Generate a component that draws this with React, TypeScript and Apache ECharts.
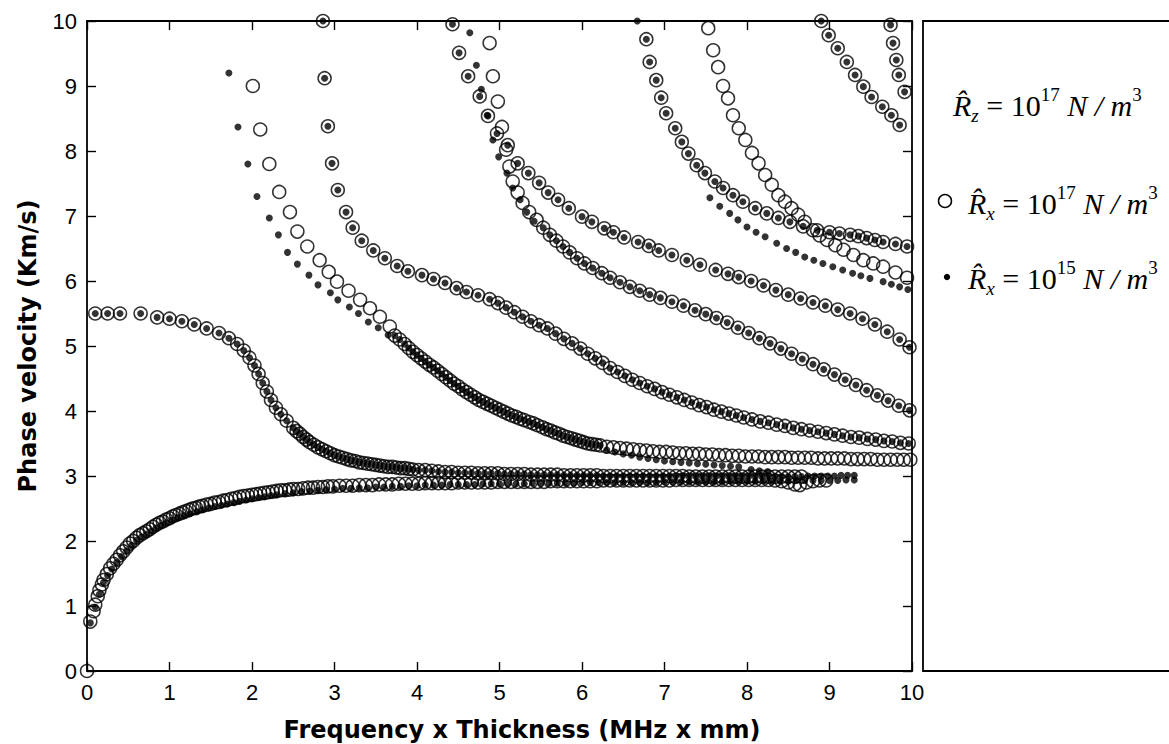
import React, { useEffect, useRef } from "react";
import * as echarts from "echarts";

type P = [number, number];

// Axis ticks
const xTickValues = [0, 1, 2, 3, 4, 5, 6, 7, 8, 9, 10];
const yTickValues = [0, 1, 2, 3, 4, 5, 6, 7, 8, 9, 10];

// ---- Mode A (fundamental low branch) ----
const A17: P[] = [
  [0, 0], [0.04, 0.76], [0.08, 0.92], [0.1, 1.02], [0.13, 1.15], [0.15, 1.24], [0.18, 1.33], [0.2, 1.4],
  [0.24, 1.49], [0.28, 1.58], [0.32, 1.65], [0.36, 1.71], [0.4, 1.78], [0.44, 1.84], [0.48, 1.9], [0.52, 1.96],
  [0.56, 2.0], [0.6, 2.05], [0.64, 2.09], [0.68, 2.12], [0.72, 2.15], [0.76, 2.18], [0.8, 2.22], [0.84, 2.25],
  [0.88, 2.28], [0.92, 2.3], [0.96, 2.33], [1.0, 2.35], [1.04, 2.38], [1.08, 2.4], [1.12, 2.42], [1.16, 2.44],
  [1.2, 2.46], [1.24, 2.48], [1.28, 2.5], [1.32, 2.51], [1.36, 2.53], [1.4, 2.54], [1.45, 2.56], [1.5, 2.57],
  [1.55, 2.59], [1.6, 2.6], [1.65, 2.62], [1.7, 2.63], [1.75, 2.65], [1.8, 2.66], [1.85, 2.68], [1.9, 2.69],
  [1.95, 2.7], [2.0, 2.71], [2.05, 2.72], [2.1, 2.73], [2.15, 2.74], [2.2, 2.75], [2.25, 2.76], [2.3, 2.77],
  [2.35, 2.78], [2.4, 2.78], [2.45, 2.79], [2.5, 2.8], [2.56, 2.8], [2.62, 2.81], [2.68, 2.82], [2.74, 2.82],
  [2.8, 2.83], [2.86, 2.83], [2.92, 2.84], [2.98, 2.84], [3.06, 2.85], [3.14, 2.85], [3.22, 2.85], [3.3, 2.86],
  [3.38, 2.86], [3.46, 2.86], [3.54, 2.87], [3.62, 2.87], [3.7, 2.87], [3.78, 2.88], [3.86, 2.88], [3.94, 2.88],
  [4.02, 2.88], [4.1, 2.89], [4.18, 2.89], [4.26, 2.89], [4.34, 2.89], [4.42, 2.89], [4.5, 2.9], [4.58, 2.9],
  [4.66, 2.9], [4.74, 2.9], [4.82, 2.9], [4.9, 2.9], [4.98, 2.91], [5.06, 2.91], [5.14, 2.91], [5.22, 2.91],
  [5.3, 2.91], [5.38, 2.91], [5.46, 2.91], [5.54, 2.91], [5.62, 2.92], [5.7, 2.92], [5.78, 2.92], [5.86, 2.92],
  [5.94, 2.92], [6.02, 2.92], [6.1, 2.92], [6.18, 2.92], [6.26, 2.93], [6.34, 2.93], [6.42, 2.93], [6.5, 2.93],
  [6.58, 2.93], [6.66, 2.93], [6.74, 2.93], [6.82, 2.93], [6.9, 2.93], [6.98, 2.93], [7.06, 2.93], [7.14, 2.94],
  [7.22, 2.94], [7.3, 2.94], [7.38, 2.94], [7.46, 2.94], [7.54, 2.94], [7.62, 2.94], [7.7, 2.94], [7.78, 2.94],
  [7.86, 2.94], [7.94, 2.94], [8.02, 2.94], [8.1, 2.94], [8.18, 2.94], [8.26, 2.94], [8.34, 2.93], [8.42, 2.92],
  [8.5, 2.9], [8.58, 2.87], [8.64, 2.86], [8.72, 2.9], [8.8, 2.92], [8.88, 2.93], [8.96, 2.93],
];
const A15: P[] = [
  [0.04, 0.74], [0.1, 0.98], [0.15, 1.18], [0.2, 1.36], [0.25, 1.47], [0.3, 1.57], [0.36, 1.67], [0.42, 1.76],
  [0.48, 1.85], [0.54, 1.93], [0.6, 2.01], [0.66, 2.06], [0.72, 2.1], [0.78, 2.15], [0.84, 2.2], [0.9, 2.24],
  [0.96, 2.28], [1.03, 2.32], [1.1, 2.36], [1.18, 2.39], [1.25, 2.42], [1.33, 2.45], [1.4, 2.48], [1.48, 2.51],
  [1.55, 2.53], [1.63, 2.55], [1.7, 2.57], [1.78, 2.59], [1.85, 2.61], [1.93, 2.63], [2.0, 2.65], [2.08, 2.67],
  [2.15, 2.68], [2.23, 2.7], [2.3, 2.71], [2.4, 2.73], [2.5, 2.74], [2.6, 2.76], [2.7, 2.77], [2.8, 2.78],
  [2.9, 2.79], [3.0, 2.8], [3.1, 2.81], [3.2, 2.81], [3.3, 2.82], [3.4, 2.82], [3.5, 2.83], [3.6, 2.83],
  [3.7, 2.84], [3.8, 2.84], [3.9, 2.85], [4.0, 2.85], [4.1, 2.86], [4.2, 2.86], [4.3, 2.86], [4.4, 2.87],
  [4.5, 2.87], [4.6, 2.87], [4.7, 2.87], [4.8, 2.88], [4.9, 2.88], [5.0, 2.88], [5.1, 2.88], [5.2, 2.88],
  [5.3, 2.88], [5.4, 2.89], [5.5, 2.89], [5.6, 2.89], [5.7, 2.89], [5.8, 2.89], [5.9, 2.89], [6.0, 2.9],
  [6.1, 2.9], [6.2, 2.9], [6.3, 2.9], [6.4, 2.9], [6.5, 2.9], [6.6, 2.9], [6.7, 2.9], [6.8, 2.9],
  [6.9, 2.9], [7.0, 2.91], [7.1, 2.91], [7.2, 2.91], [7.3, 2.91], [7.4, 2.91], [7.5, 2.91], [7.6, 2.91],
  [7.7, 2.91], [7.8, 2.92], [7.9, 2.92], [8.0, 2.92], [8.1, 2.92], [8.2, 2.92], [8.3, 2.92], [8.4, 2.92],
  [8.5, 2.92], [8.6, 2.93], [8.7, 2.93], [8.8, 2.93], [8.9, 2.93], [9.0, 2.93], [9.1, 2.93], [9.2, 2.94],
  [9.3, 2.94],
];

// ---- Mode B ----
const B17: P[] = [
  [0.1, 5.5], [0.25, 5.5], [0.4, 5.5], [0.65, 5.5], [0.85, 5.44], [1.0, 5.42], [1.15, 5.38], [1.3, 5.33],
  [1.45, 5.27], [1.6, 5.2], [1.72, 5.12], [1.82, 5.03], [1.9, 4.93], [1.97, 4.82], [2.03, 4.7], [2.08, 4.57],
  [2.13, 4.43], [2.18, 4.3], [2.23, 4.17], [2.29, 4.05], [2.35, 3.95], [2.42, 3.85], [2.5, 3.74], [2.54, 3.69],
  [2.58, 3.65], [2.62, 3.6], [2.66, 3.56], [2.7, 3.52], [2.75, 3.48], [2.8, 3.44], [2.85, 3.41], [2.9, 3.38],
  [2.95, 3.35], [3.0, 3.32], [3.05, 3.3], [3.1, 3.28], [3.15, 3.26], [3.2, 3.24], [3.25, 3.23], [3.3, 3.21],
  [3.35, 3.2], [3.4, 3.19], [3.45, 3.18], [3.5, 3.17], [3.55, 3.16], [3.6, 3.15], [3.65, 3.14], [3.7, 3.14],
  [3.75, 3.13], [3.8, 3.12], [3.85, 3.12], [3.9, 3.11], [3.95, 3.1], [4.02, 3.09], [4.1, 3.09], [4.18, 3.08],
  [4.26, 3.07], [4.34, 3.06], [4.42, 3.06], [4.5, 3.05], [4.58, 3.05], [4.66, 3.05], [4.74, 3.04], [4.82, 3.04],
  [4.9, 3.04], [4.98, 3.04], [5.06, 3.03], [5.14, 3.03], [5.22, 3.03], [5.3, 3.03], [5.38, 3.02], [5.46, 3.02],
  [5.54, 3.02], [5.62, 3.02], [5.7, 3.02], [5.78, 3.01], [5.86, 3.01], [5.94, 3.01], [6.02, 3.01], [6.1, 3.01],
  [6.18, 3.01], [6.26, 3.0], [6.34, 3.0], [6.42, 3.0], [6.5, 3.0], [6.58, 3.0], [6.66, 3.0], [6.74, 3.0],
  [6.82, 3.0], [6.9, 3.0], [6.98, 3.0], [7.06, 3.0], [7.14, 3.0], [7.22, 3.0], [7.3, 2.99], [7.38, 2.99],
  [7.46, 2.99], [7.54, 2.99], [7.62, 2.99], [7.7, 2.99], [7.78, 2.99], [7.86, 2.99], [7.94, 2.99], [8.02, 2.99],
  [8.1, 2.99], [8.18, 2.99], [8.26, 2.99], [8.34, 2.99], [8.42, 2.99], [8.5, 2.99], [8.58, 2.99], [8.66, 2.99],
];
const B15_tail: P[] = [
  [8.74, 3.0], [8.82, 3.0], [8.9, 3.0], [8.98, 3.0], [9.06, 3.0], [9.14, 3.01], [9.22, 3.01], [9.3, 3.01],
];

// ---- Mode C ----
const C17_top: P[] = [
  [2.01, 9.0], [2.1, 8.33], [2.21, 7.8], [2.33, 7.37], [2.46, 7.06], [2.55, 6.76], [2.67, 6.53], [2.82, 6.32],
  [2.93, 6.14], [3.03, 5.99], [3.17, 5.85], [3.31, 5.71], [3.43, 5.58], [3.55, 5.45], [3.67, 5.3],
];
const C15_top: P[] = [
  [1.72, 9.2], [1.83, 8.37], [1.95, 7.8], [2.06, 7.3], [2.21, 6.97], [2.32, 6.71], [2.43, 6.44], [2.55, 6.26],
  [2.69, 6.09], [2.8, 5.94], [2.95, 5.82], [3.04, 5.71], [3.18, 5.6], [3.29, 5.5], [3.41, 5.37], [3.53, 5.28],
  [3.65, 5.17],
];
const C_mid: P[] = [
  [3.73, 5.16], [3.79, 5.1], [3.85, 5.03], [3.9, 4.97], [3.95, 4.91], [4.0, 4.86], [4.05, 4.81], [4.1, 4.76],
  [4.15, 4.71], [4.2, 4.67], [4.25, 4.62], [4.3, 4.57], [4.35, 4.52], [4.4, 4.47], [4.45, 4.42], [4.5, 4.38],
  [4.55, 4.33], [4.6, 4.29], [4.65, 4.25], [4.7, 4.21], [4.75, 4.17], [4.8, 4.14], [4.85, 4.11], [4.9, 4.08],
  [4.95, 4.05], [5.0, 4.02], [5.05, 3.99], [5.1, 3.96], [5.15, 3.93], [5.2, 3.91], [5.25, 3.88], [5.3, 3.86],
  [5.36, 3.83], [5.41, 3.81], [5.46, 3.78], [5.52, 3.75], [5.57, 3.72], [5.62, 3.7], [5.67, 3.67], [5.72, 3.65],
  [5.77, 3.62], [5.82, 3.6], [5.87, 3.58], [5.92, 3.56], [5.97, 3.54], [6.02, 3.52], [6.07, 3.5], [6.12, 3.49],
  [6.17, 3.48], [6.22, 3.47],
];
const C17_tail: P[] = [
  [6.3, 3.45], [6.38, 3.44], [6.46, 3.43], [6.54, 3.42], [6.62, 3.41], [6.7, 3.4], [6.78, 3.39], [6.86, 3.38],
  [6.94, 3.37], [7.02, 3.37], [7.1, 3.36], [7.18, 3.35], [7.26, 3.35], [7.34, 3.34], [7.42, 3.34], [7.5, 3.33],
  [7.58, 3.33], [7.66, 3.32], [7.74, 3.32], [7.82, 3.31], [7.9, 3.31], [7.98, 3.3], [8.06, 3.3], [8.14, 3.3],
  [8.22, 3.29], [8.3, 3.29], [8.38, 3.29], [8.46, 3.29], [8.54, 3.28], [8.62, 3.28], [8.7, 3.28], [8.78, 3.28],
  [8.86, 3.27], [8.94, 3.27], [9.02, 3.27], [9.1, 3.27], [9.18, 3.27], [9.26, 3.26], [9.34, 3.26], [9.42, 3.26],
  [9.5, 3.26], [9.58, 3.25], [9.66, 3.25], [9.74, 3.25], [9.82, 3.25], [9.9, 3.25], [9.98, 3.25],
];
const C15_tail: P[] = [
  [6.3, 3.4], [6.4, 3.37], [6.5, 3.34], [6.6, 3.32], [6.7, 3.29], [6.8, 3.27], [6.9, 3.25], [7.0, 3.23],
  [7.1, 3.22], [7.2, 3.21], [7.3, 3.2], [7.4, 3.19], [7.5, 3.18], [7.6, 3.17], [7.7, 3.16], [7.8, 3.15],
  [7.9, 3.14], [8.05, 3.1], [8.15, 3.08], [8.25, 3.07],
];

// ---- Mode D ----
const D: P[] = [
  [2.86, 10.0], [2.88, 9.12], [2.92, 8.38], [2.97, 7.81], [3.04, 7.4], [3.14, 7.06], [3.22, 6.82], [3.33, 6.62],
  [3.47, 6.47], [3.61, 6.35], [3.76, 6.23], [3.89, 6.15], [4.06, 6.09], [4.2, 6.03], [4.34, 5.97], [4.48, 5.89],
  [4.6, 5.83], [4.74, 5.78], [4.88, 5.72], [4.98, 5.66], [5.08, 5.59], [5.18, 5.52], [5.28, 5.45], [5.38, 5.38],
  [5.48, 5.32], [5.58, 5.27], [5.68, 5.19], [5.78, 5.11], [5.88, 5.04], [5.98, 4.96], [6.07, 4.88], [6.16, 4.81],
  [6.25, 4.74], [6.34, 4.66], [6.43, 4.6], [6.52, 4.54], [6.61, 4.48], [6.7, 4.43], [6.79, 4.38], [6.88, 4.34],
  [6.97, 4.29], [7.06, 4.25], [7.15, 4.21], [7.24, 4.17], [7.33, 4.13], [7.42, 4.09], [7.51, 4.06], [7.6, 4.02],
  [7.69, 3.99], [7.78, 3.96], [7.87, 3.93], [7.96, 3.9], [8.06, 3.87], [8.16, 3.84], [8.26, 3.82], [8.36, 3.79],
  [8.46, 3.77], [8.56, 3.74], [8.66, 3.72], [8.76, 3.7], [8.86, 3.68], [8.96, 3.66], [9.06, 3.64], [9.16, 3.62],
  [9.26, 3.6], [9.36, 3.59], [9.46, 3.57], [9.56, 3.56], [9.66, 3.54], [9.76, 3.53], [9.86, 3.51], [9.96, 3.5],
];

// ---- Mode E ----
const E: P[] = [
  [4.43, 9.95], [4.51, 9.51], [4.62, 9.15], [4.76, 8.84], [4.86, 8.54], [4.97, 8.27], [5.1, 8.09], [5.22, 7.81],
  [5.35, 7.66], [5.48, 7.51], [5.59, 7.36], [5.71, 7.25], [5.84, 7.12], [6.0, 6.99], [6.12, 6.91], [6.27, 6.81],
  [6.38, 6.75], [6.51, 6.67], [6.68, 6.6], [6.81, 6.54], [6.93, 6.47], [7.09, 6.4], [7.27, 6.32], [7.43, 6.25],
  [7.62, 6.17], [7.77, 6.11], [7.9, 6.06], [8.05, 6.0], [8.2, 5.93], [8.35, 5.86], [8.5, 5.79], [8.65, 5.73],
  [8.8, 5.67], [8.95, 5.62], [9.1, 5.56], [9.25, 5.5], [9.4, 5.42], [9.55, 5.33], [9.7, 5.22], [9.85, 5.1],
  [9.97, 4.98],
];

// ---- Mode F ----
const F17_top: P[] = [
  [4.88, 9.66], [4.92, 9.15], [4.98, 8.76], [5.03, 8.37], [5.08, 8.02], [5.12, 7.76], [5.16, 7.53], [5.22, 7.36],
  [5.28, 7.2], [5.36, 7.06], [5.45, 6.94],
];
const F15_top: P[] = [
  [4.64, 9.82], [4.72, 9.32], [4.78, 8.95], [4.85, 8.55], [4.92, 8.17], [4.99, 7.91], [5.09, 7.66], [5.16, 7.43],
  [5.25, 7.25], [5.33, 7.06], [5.42, 6.92],
];
const F_tail: P[] = [
  [5.53, 6.82], [5.61, 6.71], [5.69, 6.62], [5.77, 6.53], [5.85, 6.44], [5.94, 6.35], [6.03, 6.27], [6.13, 6.2],
  [6.24, 6.12], [6.34, 6.05], [6.46, 5.98], [6.58, 5.91], [6.7, 5.85], [6.82, 5.79], [6.95, 5.74], [7.09, 5.68],
  [7.23, 5.62], [7.37, 5.55], [7.5, 5.49], [7.63, 5.43], [7.76, 5.36], [7.89, 5.28], [8.02, 5.2], [8.15, 5.12],
  [8.28, 5.04], [8.41, 4.96], [8.54, 4.88], [8.67, 4.8], [8.8, 4.72], [8.93, 4.64], [9.06, 4.56], [9.19, 4.48],
  [9.32, 4.4], [9.45, 4.32], [9.58, 4.24], [9.71, 4.16], [9.84, 4.08], [9.97, 4.01],
];

// ---- Mode G (open circles only) ----
const G17: P[] = [
  [7.53, 9.89], [7.59, 9.55], [7.65, 9.29], [7.71, 9.0], [7.77, 8.81], [7.83, 8.55], [7.9, 8.35], [7.98, 8.17],
  [8.06, 7.97], [8.14, 7.81], [8.22, 7.63], [8.3, 7.48], [8.38, 7.32], [8.46, 7.22], [8.54, 7.12], [8.62, 7.02],
  [8.7, 6.91], [8.8, 6.78], [8.88, 6.7], [8.97, 6.63], [9.07, 6.55], [9.17, 6.48], [9.29, 6.4], [9.41, 6.32],
  [9.53, 6.27], [9.65, 6.22], [9.8, 6.13], [9.94, 6.05],
];

// ---- Mode H ----
const H15_start: P[] = [[6.67, 10.0]];
const H_top: P[] = [
  [6.78, 9.72], [6.82, 9.37], [6.9, 9.09], [6.96, 8.82], [7.02, 8.58], [7.13, 8.35], [7.21, 8.14], [7.29, 7.96],
  [7.39, 7.78], [7.49, 7.66],
];
const H17_tail: P[] = [
  [7.61, 7.53], [7.71, 7.43], [7.83, 7.32], [7.95, 7.22], [8.1, 7.12], [8.24, 7.04], [8.38, 6.97], [8.52, 6.91],
  [8.68, 6.84], [8.85, 6.78], [9.0, 6.75], [9.12, 6.73], [9.25, 6.71], [9.35, 6.69], [9.45, 6.66], [9.55, 6.63],
  [9.65, 6.6], [9.8, 6.57], [9.94, 6.53],
];
const H15_tail: P[] = [
  [7.55, 7.28], [7.67, 7.15], [7.79, 7.04], [7.89, 6.94], [8.0, 6.83], [8.11, 6.75], [8.22, 6.68], [8.36, 6.58],
  [8.48, 6.5], [8.59, 6.44], [8.7, 6.37], [8.81, 6.32], [8.92, 6.27], [9.04, 6.22], [9.16, 6.17], [9.28, 6.12],
  [9.38, 6.08], [9.49, 6.04], [9.65, 5.99], [9.75, 5.95], [9.85, 5.91], [9.95, 5.87],
];

// ---- Modes I and J ----
const I: P[] = [
  [8.9, 10.0], [8.99, 9.78], [9.1, 9.58], [9.21, 9.37], [9.31, 9.17], [9.41, 8.99], [9.51, 8.83], [9.64, 8.68],
  [9.75, 8.55], [9.85, 8.4],
];
const J: P[] = [[9.74, 9.94], [9.77, 9.66], [9.81, 9.4], [9.84, 9.17], [9.91, 8.91]];

const series17: P[][] = [
  A17, B17, [...C17_top, ...C_mid, ...C17_tail], D, E, [...F17_top, ...F_tail], G17,
  [...H_top, ...H17_tail], I, J,
];
const series15: P[][] = [
  A15, [...B17, ...B15_tail], [...C15_top, ...C_mid, ...C15_tail], D, E, [...F15_top, ...F_tail],
  [...H15_start, ...H_top, ...H17_tail], H15_tail, I, J,
];

const legendTexts = [
  "{i|R\u0302}{sub|z}{n| = 10}{sup|17}{i| N / m}{sup|3}",
  "{i|R\u0302}{sub|x}{n| = 10}{sup|17}{i| N / m}{sup|3}",
  "{i|R\u0302}{sub|x}{n| = 10}{sup|15}{i| N / m}{sup|3}",
];

const SERIF = "'Liberation Serif', 'Times New Roman', serif";
const SANS = "'Liberation Sans Narrow', 'Liberation Sans', Arial, sans-serif";
const BOLD = "'DejaVu Sans', Verdana, sans-serif";

const GRID = { left: 87, top: 21, width: 825, height: 650 };

export default function App() {
  const ref = useRef<HTMLDivElement>(null);
  useEffect(() => {
    if (!ref.current) return;
    const chart = echarts.init(ref.current, null, { renderer: "svg" });
    const axisCommon = {
      type: "value" as const,
      min: 0,
      max: 10,
      interval: 1,
      axisLine: { show: true, onZero: false, lineStyle: { color: "#000", width: 1.8 } },
      axisTick: { show: true, inside: true, length: 9, lineStyle: { color: "#000", width: 1.4 } },
      splitLine: { show: false },
    };
    const labelStyle = { color: "#000", fontSize: 22, fontFamily: SANS, margin: 10 };
    const rich = {
      i: { fontFamily: SERIF, fontStyle: "italic", fontSize: 30, lineHeight: 40, fill: "#000" },
      n: { fontFamily: SERIF, fontSize: 30, lineHeight: 40, fill: "#000" },
      sup: { fontFamily: SERIF, fontSize: 19, lineHeight: 22, verticalAlign: "top", fill: "#000" },
      sub: { fontFamily: SERIF, fontStyle: "italic", fontSize: 19, lineHeight: 22, verticalAlign: "bottom", fill: "#000" },
    };
    const legendY = [105, 203, 278];
    const option: any = {
      animation: false,
      backgroundColor: "#fff",
      grid: GRID,
      xAxis: [
        {
          ...axisCommon,
          position: "bottom",
          axisLabel: { ...labelStyle, formatter: (v: number) => (xTickValues.includes(v) ? String(v) : "") },
        },
        { ...axisCommon, position: "top", axisLabel: { show: false } },
      ],
      yAxis: [
        {
          ...axisCommon,
          position: "left",
          axisLabel: { ...labelStyle, formatter: (v: number) => (yTickValues.includes(v) ? String(v) : "") },
        },
        { ...axisCommon, position: "right", axisLabel: { show: false } },
      ],
      series: [
        ...series17.map((d) => ({
          type: "scatter",
          data: d,
          symbol: "circle",
          symbolSize: 13,
          clip: false,
          itemStyle: { color: "rgba(0,0,0,0)", borderColor: "#000", borderWidth: 1.5 },
          z: 2,
        })),
        ...series15.map((d) => ({
          type: "scatter",
          data: d,
          symbol: "circle",
          symbolSize: 7,
          clip: false,
          itemStyle: { color: "#000" },
          z: 3,
        })),
      ],
      graphic: [
        {
          type: "rect",
          shape: { x: 923, y: 21, width: 270, height: 650 },
          style: { fill: "none", stroke: "#000", lineWidth: 1.8 },
          silent: true,
        },
        {
          type: "text",
          x: 522,
          y: 730,
          style: {
            text: "Frequency x Thickness (MHz x mm)",
            font: `bold 24px ${BOLD}`,
            fill: "#000",
            align: "center",
            verticalAlign: "middle",
          },
        },
        {
          type: "text",
          x: 28,
          y: 346,
          rotation: Math.PI / 2,
          style: {
            text: "Phase velocity (Km/s)",
            font: `bold 24px ${BOLD}`,
            fill: "#000",
            align: "center",
            verticalAlign: "middle",
          },
        },
        ...legendTexts.map((t, k) => ({
          type: "text",
          x: k === 0 ? 953 : 968,
          y: legendY[k],
          style: { text: t, rich, align: "left", verticalAlign: "middle" },
        })),
        {
          type: "circle",
          shape: { cx: 945, cy: 201, r: 6.5 },
          style: { fill: "none", stroke: "#000", lineWidth: 1.5 },
        },
        {
          type: "circle",
          shape: { cx: 947, cy: 277, r: 3.2 },
          style: { fill: "#000" },
        },
      ],
    };
    chart.setOption(option);
    return () => chart.dispose();
  }, []);
  return (
    <div
      ref={ref}
      style={{ position: "absolute", left: 0, top: 0, width: 1169, height: 744, background: "#fff" }}
    />
  );
}
